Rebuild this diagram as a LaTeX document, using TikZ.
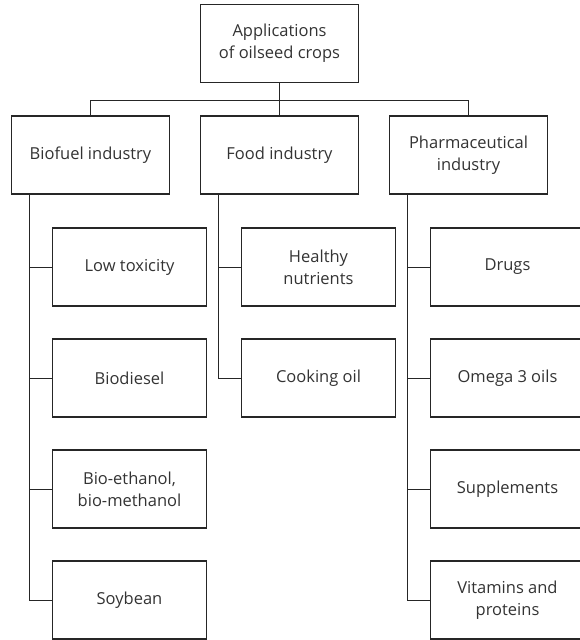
\documentclass[tikz,border=0pt]{standalone}
\usepackage{fontspec}
\setmainfont{Open Sans}
\usetikzlibrary{trees}
\tikzset{
    appbox/.style    = {shape=rectangle, draw=black!85, line width=1.2pt,
        align=center, text=black!80, inner sep=0pt,
        font=\fontsize{16.5}{21.7}\selectfont,
        minimum height=78pt},
    rootbox/.style   = {appbox, minimum width=158pt},
    sectorbox/.style = {appbox, minimum width=158pt},
    itembox/.style   = {appbox, minimum width=154pt}
}

\begin{document}
\begin{tikzpicture}
            [
            x = 1pt, y = 1pt,
            grow                    = down,
            edge from parent/.style = {draw=black!85, line width=0.8pt},
            level 1/.style          = {sibling distance=189pt, level distance=111.5pt,
                edge from parent path={(\tikzparentnode.south) -- ++(0,-17) -| (\tikzchildnode.north)}},
            level 2/.style          = {grow via three points={one child at (39,-112)
                    and two children at (39,-112) and (39,-223)},
                edge from parent path={([xshift=18pt]\tikzparentnode.south west) |- (\tikzchildnode.west)}}
            ]
            \useasboundingbox (0,0) rectangle (579,-640);
            \node[rootbox] (root) at (279.5,-43.5) {Applications\\of oilseed crops}
                child {node[sectorbox] (biofuel) {Biofuel industry}
                    child {node[itembox] (lowtox) {Low toxicity}}
                    child {node[itembox] (biodiesel) {Biodiesel}}
                    child {node[itembox] (ethanol) {Bio-ethanol,\\bio-methanol}}
                    child {node[itembox] (soybean) {Soybean}}}
                child {node[sectorbox] (food) {Food industry}
                    child {node[itembox] (nutrients) {Healthy\\nutrients}}
                    child {node[itembox] (cooking) {Cooking oil}}}
                child {node[sectorbox] (pharma) {Pharmaceutical\\industry}
                    child {node[itembox] (drugs) {Drugs}}
                    child {node[itembox] (omega) {Omega 3 oils}}
                    child {node[itembox] (supplements) {Supplements}}
                    child {node[itembox] (vitamins) {Vitamins and\\proteins}}}
            ;
    \end{tikzpicture}
\end{document}
